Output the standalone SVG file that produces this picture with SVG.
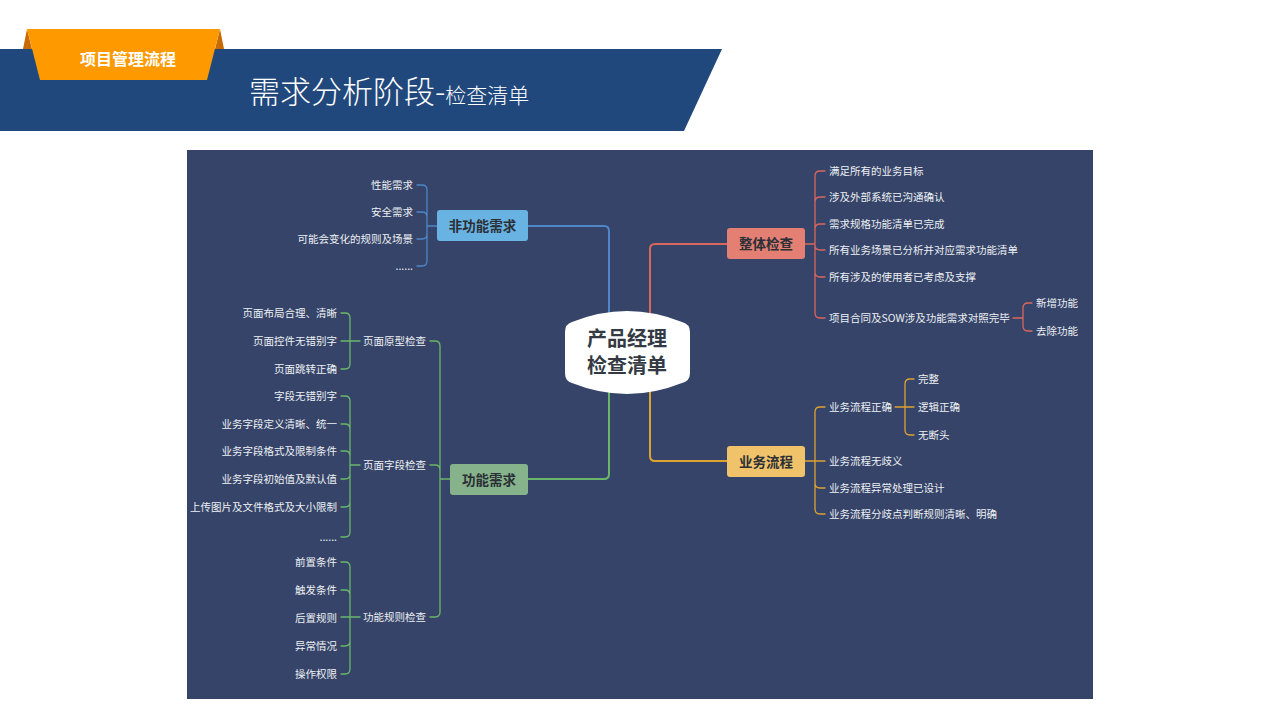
<svg xmlns="http://www.w3.org/2000/svg" width="1280" height="720" viewBox="0 0 1280 720">
<style>
  .t { font-family: "Noto Sans CJK SC", "Liberation Sans", sans-serif; }
  .leaf { font-family: "Noto Sans CJK SC", "Liberation Sans", sans-serif; font-size: 10.5px; fill: #eef0f4; }
  .end { text-anchor: end; }
  .node { font-family: "Noto Sans CJK SC", "Liberation Sans", sans-serif; font-size: 13.5px; font-weight: bold; fill: #2b2f36; text-anchor: middle; }
  .ln { fill: none; stroke-linecap: round; stroke-linejoin: round; }
  .blue { stroke: #4f86c8; }
  .green { stroke: #6ab76a; }
  .red { stroke: #d9675c; }
  .amber { stroke: #dca232; }
  .w2 { stroke-width: 2; }
  .w1 { stroke-width: 1.3; }
</style>
<rect width="1280" height="720" fill="#ffffff"/>
<g id="header">
  <polygon points="0,49 722,49 684,131 0,131" fill="#21487c"/>
  <polygon points="27,29 23,49 32,49" fill="#c96b05"/>
  <polygon points="220,29 224,49 215,49" fill="#c96b05"/>
  <polygon points="27,29 220,29 207,80 40,80" fill="#fe9a00"/>
  <text x="128" y="65" class="t" font-size="16" font-weight="bold" fill="#ffffff" text-anchor="middle">项目管理流程</text>
  <text x="249" y="103" class="t" font-weight="300" fill="#ffffff"><tspan font-size="31">需求分析阶段-</tspan><tspan font-size="21">检查清单</tspan></text>
</g>
<rect id="panel" x="187" y="150" width="906" height="549" fill="#354468"/>
<g id="connectors">
  <path class="ln blue w2" d="M528,226 H604 Q609,226 609,231 V318"/>
  <path class="ln blue w1" d="M437,226 H427 M427,226 V190 Q427,185 422,185 H417 M427,226 V217 Q427,212 422,212 H417 M427,226 V234 Q427,239 422,239 H417 M427,226 V261 Q427,266 422,266 H417"/>
  <path class="ln green w2" d="M528,479 H604 Q609,479 609,474 V388"/>
  <path class="ln green w1" d="M450,479 H440 M440,479 V346 Q440,341 435,341 H430 M440,479 V470 Q440,465 435,465 H430 M440,479 V612 Q440,617 435,617 H430"/>
  <path class="ln green w1" d="M360,341 H350 M350,341 V318 Q350,313 345,313 H341 M350,341 H341 M350,341 V364 Q350,369 345,369 H341"/>
  <path class="ln green w1" d="M360,465 H350 M350,465 V401 Q350,396 345,396 H341 M350,465 V429 Q350,424 345,424 H341 M350,465 V456 Q350,451 345,451 H341 M350,465 V474 Q350,479 345,479 H341 M350,465 V502 Q350,507 345,507 H341 M350,465 V532 Q350,537 345,537 H341"/>
  <path class="ln green w1" d="M360,617 H350 M350,617 V567 Q350,562 345,562 H341 M350,617 V595 Q350,590 345,590 H341 M350,617 H341 M350,617 V641 Q350,646 345,646 H341 M350,617 V669 Q350,674 345,674 H341"/>
  <path class="ln red w2" d="M650,318 V249 Q650,244 655,244 H727"/>
  <path class="ln red w1" d="M805,244 H815 M815,244 V176 Q815,171 820,171 H825 M815,244 V202 Q815,197 820,197 H825 M815,244 V229 Q815,224 820,224 H825 M815,244 V245 Q815,250 820,250 H825 M815,244 V272 Q815,277 820,277 H825 M815,244 V313 Q815,318 820,318 H825"/>
  <path class="ln red w1" d="M1013,318 H1023 M1023,318 V308 Q1023,303 1028,303 H1032 M1023,318 V326 Q1023,331 1028,331 H1032"/>
  <path class="ln amber w2" d="M650,388 V456 Q650,461 655,461 H727"/>
  <path class="ln amber w1" d="M805,461 H815 M815,461 V412 Q815,407 820,407 H825 M815,461 H825 M815,461 V483 Q815,488 820,488 H825 M815,461 V509 Q815,514 820,514 H825"/>
  <path class="ln amber w1" d="M895,407 H905 M905,407 V384 Q905,379 910,379 H914 M905,407 H914 M905,407 V430 Q905,435 910,435 H914"/>
</g>
<g id="center">
  <path d="M572,322 Q627,300 682,322 Q690,324 690,332 L690,373 Q690,381 682,383 Q627,405 572,383 Q565,381 565,373 L565,332 Q565,324 572,322 Z" fill="#ffffff"/>
  <text x="627" y="346" class="t" font-size="20" font-weight="bold" fill="#333a44" text-anchor="middle">产品经理</text>
  <text x="627" y="373" class="t" font-size="20" font-weight="bold" fill="#333a44" text-anchor="middle">检查清单</text>
</g>
<g id="node-feigongneng">
  <rect x="437" y="210" width="91" height="31" rx="3" fill="#69b3e3"/>
  <text x="482.5" y="230.5" class="node">非功能需求</text>
  <text x="413" y="189" class="leaf end">性能需求</text>
  <text x="413" y="216" class="leaf end">安全需求</text>
  <text x="413" y="243" class="leaf end">可能会变化的规则及场景</text>
  <text x="413" y="270" class="leaf end">......</text>
</g>
<g id="node-gongneng">
  <rect x="450" y="464" width="78" height="31" rx="3" fill="#86b38b"/>
  <text x="489" y="484.5" class="node">功能需求</text>
  <text x="426" y="345" class="leaf end">页面原型检查</text>
  <text x="426" y="469" class="leaf end">页面字段检查</text>
  <text x="426" y="621" class="leaf end">功能规则检查</text>
</g>
<g id="node-yuanxing">
  <text x="337" y="317" class="leaf end">页面布局合理、清晰</text>
  <text x="337" y="345" class="leaf end">页面控件无错别字</text>
  <text x="337" y="373" class="leaf end">页面跳转正确</text>
</g>
<g id="node-ziduan">
  <text x="337" y="400" class="leaf end">字段无错别字</text>
  <text x="337" y="428" class="leaf end">业务字段定义清晰、统一</text>
  <text x="337" y="455" class="leaf end">业务字段格式及限制条件</text>
  <text x="337" y="483" class="leaf end">业务字段初始值及默认值</text>
  <text x="337" y="511" class="leaf end">上传图片及文件格式及大小限制</text>
  <text x="337" y="541" class="leaf end">......</text>
</g>
<g id="node-guize">
  <text x="337" y="566" class="leaf end">前置条件</text>
  <text x="337" y="594" class="leaf end">触发条件</text>
  <text x="337" y="622" class="leaf end">后置规则</text>
  <text x="337" y="650" class="leaf end">异常情况</text>
  <text x="337" y="678" class="leaf end">操作权限</text>
</g>
<g id="node-zhengti">
  <rect x="727" y="228" width="78" height="31" rx="3" fill="#e47f74"/>
  <text x="766" y="248.5" class="node">整体检查</text>
  <text x="829" y="175" class="leaf">满足所有的业务目标</text>
  <text x="829" y="201" class="leaf">涉及外部系统已沟通确认</text>
  <text x="829" y="228" class="leaf">需求规格功能清单已完成</text>
  <text x="829" y="254" class="leaf">所有业务场景已分析并对应需求功能清单</text>
  <text x="829" y="281" class="leaf">所有涉及的使用者已考虑及支撑</text>
  <text x="829" y="322" class="leaf">项目合同及SOW涉及功能需求对照完毕</text>
  <text x="1036" y="307" class="leaf">新增功能</text>
  <text x="1036" y="335" class="leaf">去除功能</text>
</g>
<g id="node-yewu">
  <rect x="727" y="446" width="78" height="31" rx="3" fill="#f0c36a"/>
  <text x="766" y="466.5" class="node">业务流程</text>
  <text x="829" y="411" class="leaf">业务流程正确</text>
  <text x="829" y="465" class="leaf">业务流程无歧义</text>
  <text x="829" y="492" class="leaf">业务流程异常处理已设计</text>
  <text x="829" y="518" class="leaf">业务流程分歧点判断规则清晰、明确</text>
  <text x="918" y="383" class="leaf">完整</text>
  <text x="918" y="411" class="leaf">逻辑正确</text>
  <text x="918" y="439" class="leaf">无断头</text>
</g>
</svg>
